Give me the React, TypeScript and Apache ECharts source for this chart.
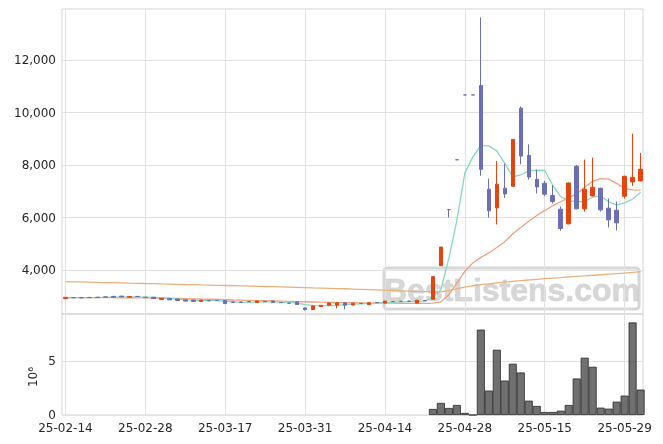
import React, { useEffect, useRef } from "react";
import * as echarts from "echarts";

// x index of each trading day (0 = 25-02-14)
const tickIdx = [0, 10, 20, 30, 40, 50, 60, 70];
const tickLabels = ["25-02-14", "25-02-28", "25-03-17", "25-03-31", "25-04-14", "25-04-28", "25-05-15", "25-05-29"];
const priceTicks = [4000, 6000, 8000, 10000, 12000];
const volTicks = [0, 5e6];

// OHLC per trading day (index 0..72)
const opens = [2910, 2950, 2945, 2955, 2960, 2975, 2995, 3005, 2960, 2995, 2960, 2960, 2880, 2920, 2895, 2860, 2855, 2800, 2835, 2845,
  2835, 2780, 2778, 2800, 2760, 2800, 2820, 2760, 2735, 2785, 2555, 2495, 2610, 2660, 2665, 2750, 2665, 2730, 2680, 2760,
  2740, 2800, 2810, 2815, 2740, 2840, 2886, 4165, 6300, 8200, 10670, 10670, 11025, 7076, 6367, 7114, 7190, 10164, 8367, 7456,
  7304, 6836, 6316, 5760, 7950, 6330, 6823, 7114, 6354, 6278, 6810, 7355, 7392];
const closes = [2960, 2945, 2940, 2950, 2955, 2970, 2960, 2975, 2995, 2990, 2955, 2910, 2925, 2865, 2840, 2815, 2805, 2855, 2830, 2840,
  2720, 2772, 2770, 2795, 2820, 2795, 2765, 2755, 2730, 2685, 2500, 2630, 2655, 2745, 2750, 2660, 2735, 2725, 2750, 2755,
  2815, 2795, 2805, 2810, 2850, 2830, 3746, 4873, 6300, 8200, 10670, 10670, 7836, 6254, 7266, 6899, 8975, 8341, 7544, 7165,
  6886, 6608, 5583, 7316, 6330, 7076, 7152, 6291, 5911, 5797, 7570, 7532, 7835];
const lows = [2905, 2935, 2935, 2930, 2950, 2960, 2955, 2970, 2955, 2985, 2950, 2905, 2875, 2860, 2835, 2795, 2800, 2795, 2815, 2835,
  2710, 2765, 2760, 2790, 2755, 2790, 2760, 2750, 2725, 2680, 2450, 2490, 2605, 2655, 2540, 2500, 2660, 2720, 2675, 2750,
  2735, 2790, 2800, 2805, 2735, 2825, 2880, 4160, 6000, 8200, 10670, 10670, 7590, 6000, 5735, 6747, 7170, 8025, 7444, 6912,
  6810, 6532, 5493, 5740, 6310, 6228, 6810, 6228, 5620, 5507, 6722, 7203, 7380];
const highs = [2965, 2955, 2950, 2975, 2965, 2985, 3000, 3010, 3000, 3010, 2965, 2965, 2930, 2925, 2900, 2870, 2860, 2860, 2850, 2850,
  2840, 2790, 2785, 2810, 2825, 2805, 2825, 2765, 2740, 2790, 2560, 2635, 2660, 2750, 2755, 2755, 2740, 2735, 2755, 2765,
  2820, 2810, 2815, 2820, 2855, 2845, 3750, 4880, 6300, 8200, 10670, 10670, 13620, 7482, 8150, 8047, 8990, 10230, 8785, 7823,
  7392, 7228, 6418, 7330, 8000, 8204, 8280, 7130, 6722, 6608, 7590, 9192, 8457];

// volume (index 46..72), earlier days have none
const volStart = 46;
const volumes = [560000, 1120000, 650000, 930000, 190000, 0, 7930000, 2270000, 6060000, 3200000, 4760000, 3950000, 1330000, 840000,
  280000, 280000, 400000, 930000, 3390000, 5320000, 4480000, 680000, 590000, 1240000, 1800000, 8600000, 2360000];

// moving averages
const maShort = [2940, 2945, 2945, 2950, 2952, 2960, 2965, 2970, 2975, 2976, 2970, 2955, 2940, 2920, 2900, 2875, 2855, 2845, 2835, 2830,
  2810, 2790, 2775, 2770, 2780, 2785, 2790, 2780, 2765, 2740, 2680, 2650, 2640, 2640, 2650, 2680, 2700, 2710, 2725, 2735,
  2760, 2775, 2785, 2795, 2810, 2815, 2960, 3250, 4450, 5900, 7700, 8300, 8750, 8730, 8540, 8060, 7550, 7620, 7780, 7800,
  7790, 7230, 6790, 6640, 6600, 6610, 6780, 6820, 6600, 6470, 6560, 6700, 6960];
const maMid = [2950, 2950, 2949, 2948, 2946, 2945, 2944, 2942, 2940, 2938, 2935, 2931, 2927, 2921, 2915, 2908, 2901, 2894, 2886, 2878,
  2868, 2858, 2850, 2843, 2836, 2829, 2821, 2814, 2807, 2799, 2790, 2781, 2773, 2766, 2760, 2756, 2752, 2748, 2745, 2742,
  2740, 2737, 2734, 2731, 2728, 2726, 2740, 2790, 3060, 3500, 3950, 4270, 4480, 4650, 4860, 5080, 5380, 5620, 5860, 6080,
  6260, 6450, 6600, 6760, 6900, 7150, 7380, 7480, 7460, 7300, 7110, 7050, 7040];
const maLong = [3555, 3550, 3544, 3538, 3531, 3523, 3516, 3508, 3500, 3493, 3485, 3478, 3470, 3463, 3455, 3447, 3440, 3432, 3425, 3417,
  3410, 3402, 3395, 3387, 3380, 3372, 3364, 3356, 3348, 3340, 3330, 3320, 3311, 3302, 3294, 3285, 3275, 3265, 3255, 3245,
  3232, 3220, 3208, 3196, 3185, 3175, 3165, 3170, 3220, 3290, 3350, 3400, 3440, 3475, 3510, 3540, 3570, 3595, 3620, 3645,
  3668, 3690, 3710, 3735, 3755, 3775, 3800, 3820, 3840, 3860, 3885, 3910, 3937];

const UP = "#e4440f";
const DOWN = "#6b6fb5";
const FONT = "DejaVu Sans";

export default function App() {
  const ref = useRef<HTMLDivElement>(null);
  useEffect(() => {
    if (!ref.current) return;
    const chart = echarts.init(ref.current, undefined, { renderer: "svg" });
    const candles = opens.map((o, i) => {
      const c = closes[i];
      const col = c > o ? UP : DOWN;
      return {
        value: [i, o, c, lows[i], highs[i]],
        itemStyle: { color: col, color0: col, borderColor: col, borderColor0: col },
      };
    });
    const vols = volumes.map((v, k) => [volStart + k, v]);
    const idxLine = (arr: number[]) => arr.map((v, i) => [i, v]);
    const gridLine = { show: true, lineStyle: { color: "#e2e2e2", width: 1 } };
    const xBase = {
      type: "value" as const,
      min: -0.43,
      max: 72.3,
      splitNumber: 7,
      axisLine: { show: false },
      axisTick: { show: false, customValues: tickIdx },
      splitLine: gridLine,
    };
    chart.setOption({
      animation: false,
      grid: [
        { left: 62, top: 9, width: 581, height: 305, show: true, borderColor: "#d4d4d4", borderWidth: 1, backgroundColor: "transparent" },
        { left: 62, top: 314, width: 581, height: 101, show: true, borderColor: "#d4d4d4", borderWidth: 1, backgroundColor: "transparent" },
      ],
      xAxis: [
        { ...xBase, gridIndex: 0, axisLabel: { show: false, customValues: tickIdx } },
        {
          ...xBase,
          gridIndex: 1,
          axisLabel: {
            show: true,
            customValues: tickIdx,
            margin: 7,
            color: "#262626",
            fontFamily: FONT,
            fontSize: 12,
            formatter: (v: number) => tickLabels[tickIdx.indexOf(Math.round(v))] ?? "",
          },
        },
      ],
      yAxis: [
        {
          type: "value",
          gridIndex: 0,
          min: 2324,
          max: 13943,
          splitNumber: 5,
          axisLine: { show: false },
          axisTick: { show: false, customValues: priceTicks },
          splitLine: gridLine,
          axisLabel: { customValues: priceTicks, color: "#262626", fontFamily: FONT, fontSize: 12, margin: 6 },
        },
        {
          type: "value",
          gridIndex: 1,
          min: 0,
          max: 9380000,
          splitNumber: 2,
          axisLine: { show: false },
          axisTick: { show: false, customValues: volTicks },
          splitLine: gridLine,
          axisLabel: {
            customValues: volTicks,
            color: "#262626",
            fontFamily: FONT,
            fontSize: 12,
            margin: 6,
            formatter: (v: number) => String(Math.round(v / 1e6)),
          },
        },
      ],
      graphic: [
        {
          type: "text",
          x: 33,
          y: 377,
          rotation: Math.PI / 2,
          style: { text: "10⁶", font: `12px '${FONT}'`, fill: "#262626", align: "center", verticalAlign: "middle" },
        },
        {
          type: "group",
          z: 100,
          children: [
            {
              type: "rect",
              shape: { x: 384, y: 268, width: 255, height: 41, r: 3 },
              style: { fill: "rgba(255,255,255,0.35)", stroke: "rgba(205,205,205,0.8)", lineWidth: 3 },
            },
            {
              type: "text",
              x: 512,
              y: 290,
              style: {
                text: "BestListens.com",
                font: "bold 32px 'Liberation Sans'",
                fill: "rgba(205,205,205,0.8)",
                stroke: "rgba(175,175,175,0.35)",
                lineWidth: 1,
                align: "center",
                verticalAlign: "middle",
              },
            },
          ],
        },
      ],
      series: [
        {
          type: "line",
          xAxisIndex: 0,
          yAxisIndex: 0,
          data: idxLine(maLong),
          showSymbol: false,
          lineStyle: { color: "#e8b27d", width: 1.3 },
          z: 2,
        },
        {
          type: "line",
          xAxisIndex: 0,
          yAxisIndex: 0,
          data: idxLine(maMid),
          showSymbol: false,
          lineStyle: { color: "#efa17f", width: 1.3 },
          z: 2,
        },
        {
          type: "line",
          xAxisIndex: 0,
          yAxisIndex: 0,
          data: idxLine(maShort),
          showSymbol: false,
          lineStyle: { color: "#86d8bf", width: 1.3 },
          z: 2,
        },
        {
          type: "candlestick",
          xAxisIndex: 0,
          yAxisIndex: 0,
          encode: { x: 0, y: [1, 2, 3, 4] },
          data: candles,
          barWidth: 4,
          itemStyle: { color: UP, color0: DOWN, borderColor: UP, borderColor0: DOWN, borderWidth: 1 },
          z: 3,
        },
        {
          type: "bar",
          xAxisIndex: 1,
          yAxisIndex: 1,
          data: vols,
          barWidth: 8,
          itemStyle: { color: "#707070", borderColor: "#2a2a2a", borderWidth: 0.8 },
        },
      ],
    });
    return () => chart.dispose();
  }, []);
  return <div ref={ref} style={{ position: "fixed", left: 0, top: 0, width: 663, height: 444 }} />;
}
